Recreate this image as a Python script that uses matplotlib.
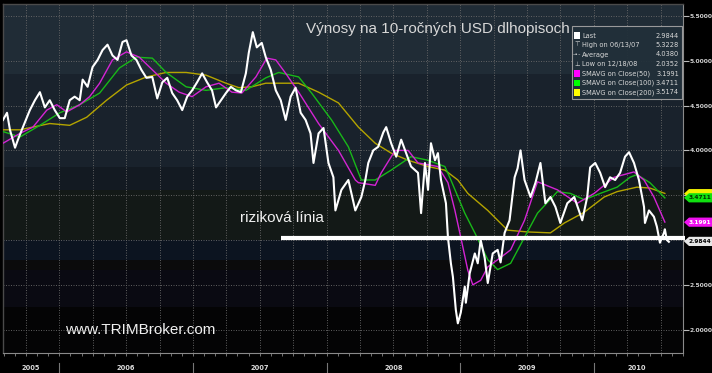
import matplotlib
matplotlib.use("Agg")
import matplotlib.pyplot as plt
import matplotlib.transforms as mtransforms
from matplotlib.patches import Rectangle, Polygon
import numpy as np

# ---------------- data (x = fractional year) ----------------
price_t = [2005.579, 2005.609, 2005.631, 2005.669, 2005.691, 2005.728, 2005.780, 2005.818,
           2005.855, 2005.892, 2005.929, 2005.966, 2006.004, 2006.041, 2006.078, 2006.115,
           2006.153, 2006.175, 2006.212, 2006.249, 2006.287, 2006.324, 2006.361, 2006.398,
           2006.436, 2006.473, 2006.503, 2006.540, 2006.577, 2006.614, 2006.652, 2006.696,
           2006.733, 2006.771, 2006.808, 2006.845, 2006.882, 2006.920, 2006.957, 2006.994,
           2007.031, 2007.069, 2007.106, 2007.143, 2007.173, 2007.210, 2007.247, 2007.284,
           2007.322, 2007.359, 2007.396, 2007.418, 2007.448, 2007.478, 2007.515, 2007.545,
           2007.582, 2007.620, 2007.657, 2007.694, 2007.731, 2007.768, 2007.806, 2007.843,
           2007.880, 2007.902, 2007.940, 2007.977, 2008.014, 2008.051, 2008.066, 2008.111,
           2008.163, 2008.215, 2008.260, 2008.290, 2008.312, 2008.349, 2008.386, 2008.424,
           2008.446, 2008.483, 2008.521, 2008.558, 2008.595, 2008.632, 2008.662, 2008.684,
           2008.707, 2008.736, 2008.759, 2008.781, 2008.811, 2008.833, 2008.856, 2008.893,
           2008.908, 2008.930, 2008.945, 2008.967, 2008.982, 2009.004, 2009.034, 2009.042,
           2009.071, 2009.109, 2009.131, 2009.153, 2009.183, 2009.206, 2009.243, 2009.280,
           2009.302, 2009.332, 2009.369, 2009.407, 2009.429, 2009.451, 2009.481, 2009.526,
           2009.563, 2009.600, 2009.637, 2009.675, 2009.712, 2009.749, 2009.801, 2009.853,
           2009.913, 2009.950, 2009.972, 2010.010, 2010.047, 2010.084, 2010.121, 2010.159,
           2010.196, 2010.233, 2010.263, 2010.300, 2010.337, 2010.375, 2010.382, 2010.412,
           2010.449, 2010.471, 2010.494, 2010.524, 2010.531, 2010.546, 2010.561]
price_v = [4.34, 4.42, 4.23, 4.03, 4.12, 4.26, 4.45, 4.56,
           4.65, 4.48, 4.56, 4.45, 4.36, 4.36, 4.56, 4.60,
           4.56, 4.79, 4.71, 4.93, 5.01, 5.12, 5.18, 5.06,
           5.01, 5.21, 5.23, 5.06, 5.01, 4.90, 4.81, 4.82,
           4.58, 4.76, 4.81, 4.64, 4.56, 4.45, 4.60, 4.67,
           4.76, 4.86, 4.76, 4.67, 4.48, 4.56, 4.64, 4.71,
           4.67, 4.65, 4.86, 5.09, 5.32, 5.15, 5.20, 5.04,
           4.90, 4.67, 4.56, 4.34, 4.60, 4.70, 4.42, 4.34,
           4.19, 3.86, 4.19, 4.25, 3.86, 3.70, 3.33, 3.56,
           3.67, 3.33, 3.48, 3.67, 3.86, 4.00, 4.04, 4.20,
           4.26, 4.08, 3.93, 4.12, 3.97, 3.82, 3.78, 3.75,
           3.30, 3.86, 3.56, 4.08, 3.89, 3.97, 3.67, 3.41,
           3.03, 2.74, 2.59, 2.22, 2.07, 2.19, 2.48, 2.30,
           2.63, 2.85, 2.74, 3.00, 2.80, 2.52, 2.85, 2.89,
           2.75, 3.08, 3.22, 3.70, 3.80, 4.00, 3.67, 3.48,
           3.64, 3.86, 3.41, 3.48, 3.37, 3.19, 3.41, 3.48,
           3.22, 3.48, 3.81, 3.86, 3.75, 3.59, 3.70, 3.67,
           3.75, 3.93, 3.98, 3.86, 3.67, 3.37, 3.19, 3.33,
           3.26, 3.15, 2.97, 3.08, 3.12, 3.00, 2.98]

sma50_t = [2005.579, 2005.706, 2005.803, 2005.907, 2005.981, 2006.056, 2006.153, 2006.227,
           2006.302, 2006.398, 2006.503, 2006.599, 2006.696, 2006.800, 2006.897, 2006.994,
           2007.098, 2007.195, 2007.292, 2007.366, 2007.471, 2007.553, 2007.620, 2007.694,
           2007.791, 2007.940, 2008.089, 2008.215, 2008.238, 2008.364, 2008.409, 2008.513,
           2008.610, 2008.684, 2008.833, 2008.908, 2008.960, 2009.004, 2009.057, 2009.094,
           2009.153, 2009.206, 2009.280, 2009.377, 2009.481, 2009.578, 2009.727, 2009.876,
           2010.002, 2010.151, 2010.300, 2010.375, 2010.449, 2010.531]
sma50_v = [4.08, 4.19, 4.26, 4.45, 4.51, 4.43, 4.51, 4.60,
           4.75, 5.01, 5.10, 5.04, 4.90, 4.75, 4.65, 4.60,
           4.71, 4.75, 4.65, 4.64, 4.82, 5.03, 5.01, 4.86,
           4.65, 4.30, 4.00, 3.67, 3.64, 3.61, 3.75, 4.00,
           4.00, 3.86, 3.82, 3.64, 3.33, 3.03, 2.66, 2.50,
           2.55, 2.70, 2.78, 2.89, 3.22, 3.65, 3.56, 3.41,
           3.52, 3.70, 3.76, 3.67, 3.48, 3.20]

sma100_t = [2005.579, 2005.706, 2005.855, 2006.004, 2006.153, 2006.302, 2006.450, 2006.577,
            2006.696, 2006.800, 2006.949, 2007.098, 2007.247, 2007.396, 2007.545, 2007.642,
            2007.791, 2007.888, 2008.037, 2008.163, 2008.260, 2008.364, 2008.483, 2008.632,
            2008.759, 2008.885, 2008.930, 2009.034, 2009.109, 2009.206, 2009.280, 2009.377,
            2009.481, 2009.578, 2009.727, 2009.824, 2009.928, 2010.047, 2010.174, 2010.270,
            2010.322, 2010.419, 2010.531]
sma100_v = [4.21, 4.15, 4.28, 4.42, 4.51, 4.64, 4.92, 5.04,
            5.03, 4.87, 4.71, 4.67, 4.70, 4.67, 4.81, 4.87,
            4.82, 4.64, 4.34, 4.04, 3.67, 3.67, 3.78, 3.93,
            3.89, 3.82, 3.67, 3.30, 3.08, 2.78, 2.67, 2.74,
            3.03, 3.30, 3.54, 3.52, 3.45, 3.52, 3.59, 3.70,
            3.73, 3.64, 3.47]

sma200_t = [2005.579, 2005.706, 2005.929, 2006.078, 2006.205, 2006.354, 2006.503, 2006.652,
            2006.800, 2006.949, 2007.098, 2007.247, 2007.344, 2007.441, 2007.545, 2007.694,
            2007.791, 2007.940, 2008.089, 2008.238, 2008.364, 2008.483, 2008.610, 2008.759,
            2008.885, 2008.982, 2009.057, 2009.206, 2009.354, 2009.503, 2009.675, 2009.779,
            2009.928, 2010.077, 2010.174, 2010.322, 2010.419, 2010.531]
sma200_v = [4.23, 4.23, 4.30, 4.28, 4.37, 4.56, 4.73, 4.82,
            4.87, 4.87, 4.84, 4.75, 4.70, 4.71, 4.75, 4.75,
            4.75, 4.65, 4.53, 4.26, 4.08, 3.97, 3.89, 3.82,
            3.78, 3.67, 3.52, 3.33, 3.11, 3.09, 3.08, 3.19,
            3.31, 3.48, 3.54, 3.59, 3.58, 3.52]

legend_labels = ["Last", "High on 06/13/07", "Average", "Low on 12/18/08",
                 "SMAVG on Close(50)", "SMAVG on Close(100)", "SMAVG on Close(200)"]
legend_values = ["2.9844", "5.3228", "4.0380", "2.0352", "3.1991", "3.4711", "3.5174"]
last_value = 2.9844
sma50_last = 3.1991
sma100_last = 3.4711
sma200_last = 3.5174

risk_line_level = 3.02
risk_line_start = 2007.657

y_ticks = [2.0, 2.5, 3.0, 3.5, 4.0, 4.5, 5.0, 5.5]
y_hidden = [3.0, 3.5]   # labels covered by the value tags
years = [2005, 2006, 2007, 2008, 2009, 2010]
year_labels = ["2005", "2006", "2007", "2008", "2009", "2010"]

title_text = "Výnosy na 10-ročných USD dlhopisoch"
risk_text = "riziková línia"
web_text = "www.TRIMBroker.com"

# ---------------- style ----------------
C_MAG = "#d424d4"
C_GRN = "#18b818"
C_YEL = "#b4a400"
XMIN, XMAX = 2005.579, 2010.643
YMIN, YMAX = 1.739, 5.634

bands = [(4.853, YMAX, "#202c36"), (3.815, 4.853, "#19222c"), (3.558, 3.815, "#131a22"),
         (3.0, 3.558, "#131917"), (2.777, 3.0, "#0c1420"), (2.665, 2.777, "#0b0b0c"),
         (2.252, 2.665, "#0a0a12"), (YMIN, 2.252, "#040405")]

W, H = 712, 373
fig = plt.figure(figsize=(W / 100, H / 100), dpi=100, facecolor="black")
ax = fig.add_axes([3 / W, 1 - 353 / H, 680 / W, 349 / H])
ax.set_facecolor("black")
ax.set_xlim(XMIN, XMAX)
ax.set_ylim(YMIN, YMAX)

for lo, hi, c in bands:
    ax.axhspan(lo, hi, color=c, lw=0, zorder=0)

# grid
ax.set_xticks(np.arange(2005.75, 2010.7, 0.25))
ax.set_xticks(np.arange(2005.5 + 1 / 12, 2010.7, 1 / 12), minor=True)
ax.set_yticks(y_ticks)
ax.grid(True, which="major", color="#6a6a6a", lw=0.6, ls=(0, (1.2, 1.8)), zorder=1)
ax.tick_params(axis="x", which="both", length=2.5, color="#888888", labelbottom=False,
               direction="out", width=0.6)
ax.yaxis.tick_right()
ax.tick_params(axis="y", length=4, width=0.8, color="#bbbbbb", labelsize=4.3,
               labelcolor="#d0d0d0", pad=0.6)
ax.set_yticklabels(["" if v in y_hidden else "%.4f" % v for v in y_ticks], fontweight="bold")
for s in ["left", "top"]:
    ax.spines[s].set_color("#4a4a4a")
    ax.spines[s].set_linewidth(1.0)
for s in ["right", "bottom"]:
    ax.spines[s].set_color("#8a8a8a")
    ax.spines[s].set_linewidth(0.8)

# series
ax.plot(sma200_t, sma200_v, color=C_YEL, lw=1.0, zorder=3)
ax.plot(sma100_t, sma100_v, color=C_GRN, lw=1.0, zorder=3)
ax.plot(sma50_t, sma50_v, color=C_MAG, lw=1.0, zorder=3)
ax.plot(price_t, price_v, color="white", lw=1.5, zorder=4)

# risk line
ax.plot([risk_line_start, XMAX + 0.035], [risk_line_level, risk_line_level], color="white",
        lw=3.0, solid_capstyle="butt", zorder=6, clip_on=False)

# year labels and separators
tb = mtransforms.blended_transform_factory(ax.transData, ax.transAxes)
for yr, lab in zip(years, year_labels):
    a = max(yr, XMIN)
    b = min(yr + 1, XMAX)
    ax.text((a + b) / 2, -0.042, lab, transform=tb, ha="center", va="center",
            fontsize=4.8, fontweight="bold", color="#dcdcdc")
    if yr > XMIN:
        ax.plot([yr, yr], [-0.030, -0.060], transform=tb, color="#777777", lw=0.8,
                clip_on=False)

# right-side value tags (arrow-shaped); the 200-day tag sits under the 100-day tag
tf = mtransforms.blended_transform_factory(fig.transFigure, ax.transData)
half = 4.6 / 89.6
tags = [(sma200_last, "#f0f000", None), (sma100_last, "#10e010", "#003000"),
        (sma50_last, "#f010f0", "white"), (last_value, "#e6e6e6", "black")]
for k, (val, fc, tc) in enumerate(tags):
    poly = Polygon([(684 / W, val), (689 / W, val + half), (712 / W, val + half),
                    (712 / W, val - half), (689 / W, val - half)], closed=True,
                   transform=tf, fc=fc, ec="none", zorder=30 + 2 * k, clip_on=False)
    fig.patches.append(poly)
    if tc is not None:
        fig.text(700 / W, val, "%.4f" % val, transform=tf, ha="center", va="center",
                 fontsize=4.2, fontweight="bold", color=tc, zorder=31 + 2 * k)

# texts
fig.text(306 / W, 1 - 33 / H, title_text, fontsize=11, color="#d8d8d8",
         family="Liberation Sans", ha="left", va="baseline")
fig.text(240 / W, 1 - 222 / H, risk_text, fontsize=11, color="#f0f0f0",
         family="Liberation Sans", ha="left", va="baseline")
fig.text(65 / W, 1 - 334 / H, web_text, fontsize=11, color="#f0f0f0",
         family="Liberation Sans", ha="left", va="baseline")

# legend box
fig.patches.append(Rectangle((572 / W, 1 - 99 / H), 110 / W, 73 / H, transform=fig.transFigure,
                             fc="#22303a", ec="#a0a0a0", lw=0.8, alpha=0.95, zorder=20))
sym_colors = ["white", None, None, None, "#ff00ff", "#00ff00", "#ffff00"]
sym_text = [None, "⊤", "-•-", "⊥", None, None, None]
for i, (lab, val) in enumerate(zip(legend_labels, legend_values)):
    yy = 1 - (35.5 + i * 9.5) / H
    if sym_colors[i] is not None:
        fig.patches.append(Rectangle((573.5 / W, yy - 3.3 / H), 6.5 / W, 6.5 / H,
                                     transform=fig.transFigure, fc=sym_colors[i], ec="none",
                                     zorder=21))
    else:
        fig.text(577 / W, yy, sym_text[i], fontsize=4.6, color="#d8d8d8", ha="center",
                 va="center", zorder=21)
    fig.text(582 / W, yy, lab, fontsize=4.8, color="#d8d8d8", ha="left", va="center", zorder=21)
    fig.text(679 / W, yy, val, fontsize=4.8, color="#d8d8d8", ha="right", va="center", zorder=21)

fig.savefig("out.png", dpi=100, facecolor="black")
